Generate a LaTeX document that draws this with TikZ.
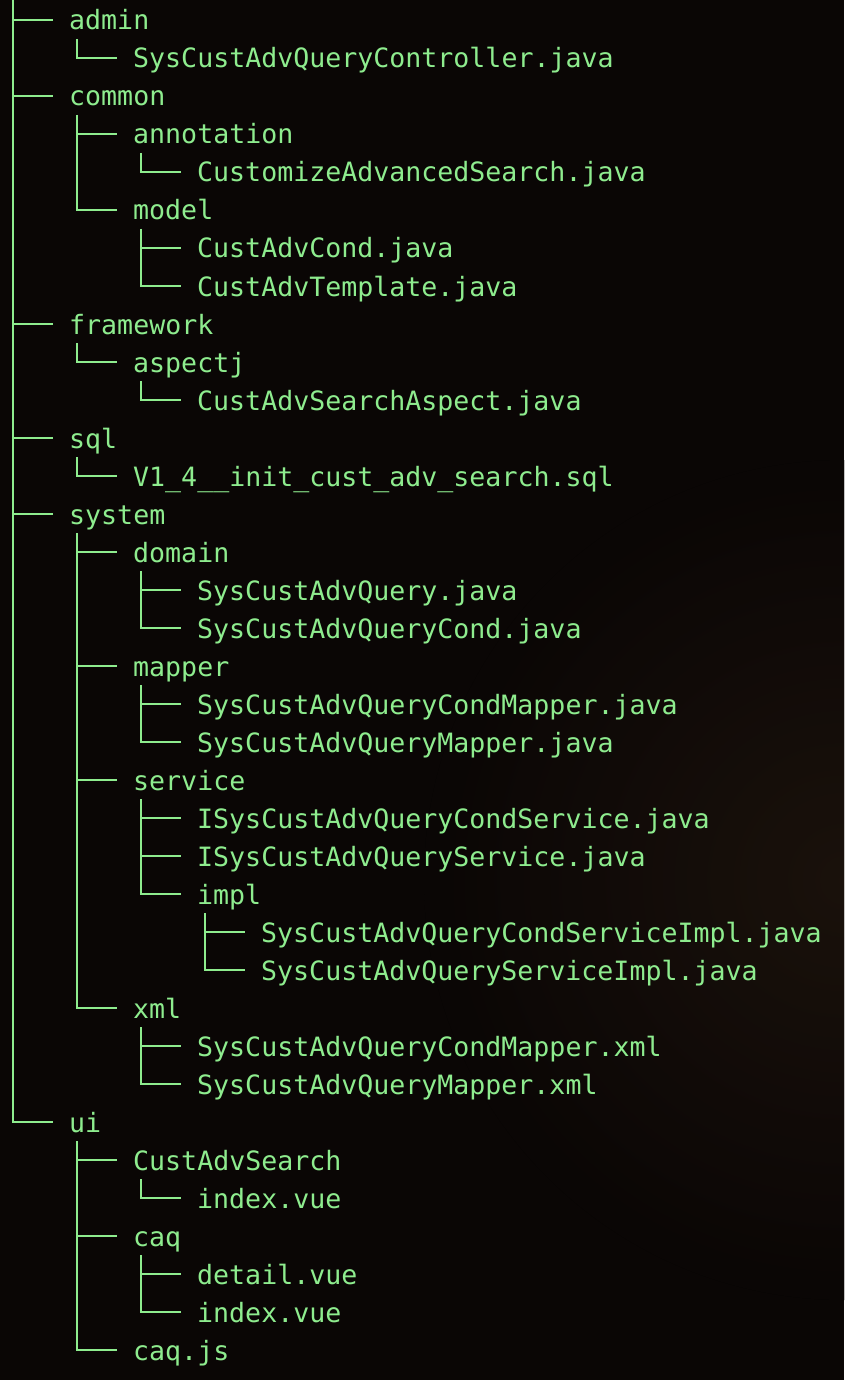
\documentclass[tikz,border=0pt]{standalone}
\usepackage{fontspec}
\setmonofont{DejaVu Sans Mono}
\usepackage{xcolor}
\usetikzlibrary{calc}
\definecolor{termgreen}{RGB}{142,236,142}
\definecolor{termbg}{RGB}{10,6,5}
\definecolor{glow}{RGB}{46,32,20}
\tikzset{entry/.style={anchor=west, inner sep=0pt, text height=20pt, text depth=0pt,
  text=termgreen, font=\fontsize{26.6}{38}\selectfont\ttfamily},
% branch of the tree, from under the parent to the child
branch/.style={draw=termgreen, line width=2pt}}

\begin{document}
\begin{tikzpicture}[x=1pt, y=-1pt]
\useasboundingbox (0,0) rectangle (844,1380);
\begin{scope}
\clip (0,0) rectangle (844,1380);
\fill[termbg] (0,0) rectangle (844,1380);
\fill[inner color=glow, outer color=termbg] (844,880) circle (420);
\fill[termbg, opacity=0.55] (0,0) rectangle (844,1380);
\end{scope}
%\draw[step=38pt,color=gray] (0,0) grid (844,1380);
\coordinate (root) at (5,-19);
\node[entry] (admin) at (69,20) {admin};
\node[entry] (ctrl) at (133,58) {SysCustAdvQueryController.java};
\node[entry] (common) at (69,96) {common};
\node[entry] (annot) at (133,134) {annotation};
\node[entry] (cas) at (197,172) {CustomizeAdvancedSearch.java};
\node[entry] (model) at (133,210) {model};
\node[entry] (cond) at (197,248) {CustAdvCond.java};
\node[entry] (tmpl) at (197,286) {CustAdvTemplate.java};
\node[entry] (frame) at (69,324) {framework};
\node[entry] (aspj) at (133,362) {aspectj};
\node[entry] (aspect) at (197,400) {CustAdvSearchAspect.java};
\node[entry] (sql) at (69,438) {sql};
\node[entry] (init) at (133,476) {V1\_4\_\_init\_cust\_adv\_search.sql};
\node[entry] (system) at (69,514) {system};
\node[entry] (domain) at (133,552) {domain};
\node[entry] (dq) at (197,590) {SysCustAdvQuery.java};
\node[entry] (dqc) at (197,628) {SysCustAdvQueryCond.java};
\node[entry] (mapper) at (133,666) {mapper};
\node[entry] (mqc) at (197,704) {SysCustAdvQueryCondMapper.java};
\node[entry] (mq) at (197,742) {SysCustAdvQueryMapper.java};
\node[entry] (service) at (133,780) {service};
\node[entry] (isqc) at (197,818) {ISysCustAdvQueryCondService.java};
\node[entry] (isq) at (197,856) {ISysCustAdvQueryService.java};
\node[entry] (impl) at (197,894) {impl};
\node[entry] (sqci) at (261,932) {SysCustAdvQueryCondServiceImpl.java};
\node[entry] (sqi) at (261,970) {SysCustAdvQueryServiceImpl.java};
\node[entry] (xml) at (133,1008) {xml};
\node[entry] (xqc) at (197,1046) {SysCustAdvQueryCondMapper.xml};
\node[entry] (xq) at (197,1084) {SysCustAdvQueryMapper.xml};
\node[entry] (ui) at (69,1122) {ui};
\node[entry] (search) at (133,1160) {CustAdvSearch};
\node[entry] (sindex) at (197,1198) {index.vue};
\node[entry] (caq) at (133,1236) {caq};
\node[entry] (detail) at (197,1274) {detail.vue};
\node[entry] (cindex) at (197,1312) {index.vue};
\node[entry] (caqjs) at (133,1350) {caq.js};
\foreach \p/\c in {root/admin, admin/ctrl, root/common, common/annot, annot/cas,
  common/model, model/cond, model/tmpl, root/frame, frame/aspj, aspj/aspect,
  root/sql, sql/init, root/system, system/domain, domain/dq, domain/dqc,
  system/mapper, mapper/mqc, mapper/mq, system/service, service/isqc,
  service/isq, service/impl, impl/sqci, impl/sqi, system/xml, xml/xqc, xml/xq,
  root/ui, ui/search, search/sindex, ui/caq, caq/detail, caq/cindex, ui/caqjs}
  \draw[branch] ([xshift=8pt,yshift=-19pt]\p.west) |- ([xshift=-16pt]\c.west);
\end{tikzpicture}
\end{document}
